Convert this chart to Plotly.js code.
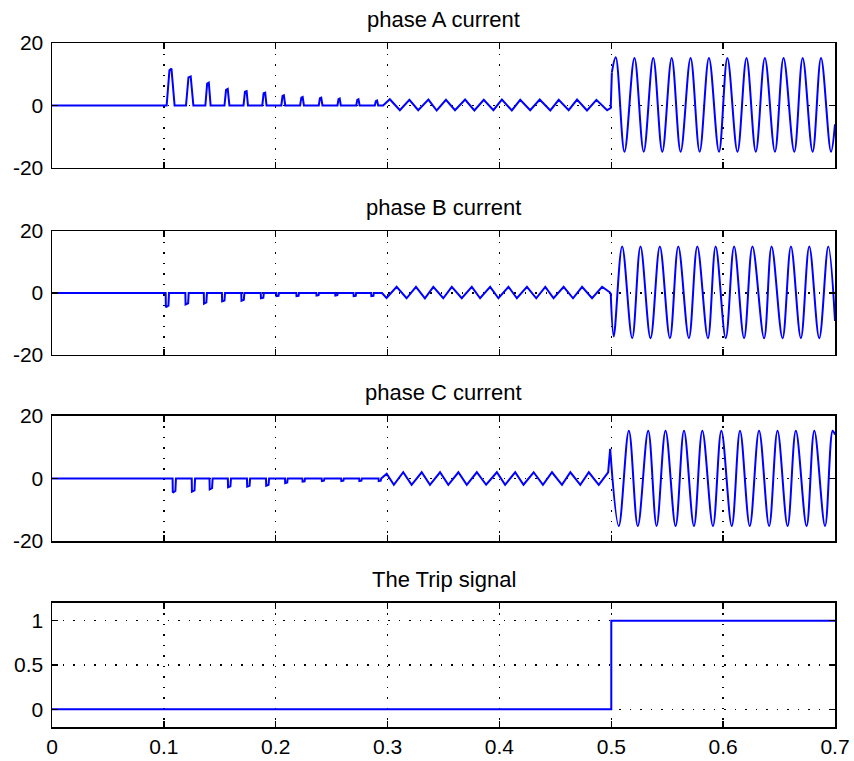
<!DOCTYPE html>
<html>
<head>
<meta charset="utf-8">
<script src="https://cdn.plot.ly/plotly-3.0.1.min.js"></script>
<style>html,body{margin:0;padding:0;background:#fff;}#chart{width:854px;height:761px;}</style>
</head>
<body>
<div id="chart"></div>
<script>
// ---------------- DATA ----------------
const xTickVals = [0, 0.1, 0.2, 0.3, 0.4, 0.5, 0.6, 0.7];
const xTickText = ['0', '0.1', '0.2', '0.3', '0.4', '0.5', '0.6', '0.7'];
const iTickVals = [-20, 0, 20];
const iTickText = ['-20', '0', '20'];
const tripTickVals = [0, 0.5, 1];
const tripTickText = ['0', '0.5', '1'];
const titles = ['phase A current', 'phase B current', 'phase C current', 'The Trip signal'];

// Phase A, before the fault (decaying pulses, then small ripple)
const tA_pre = [0,
  0.1025, 0.1050, 0.1068, 0.1096,
  0.1198, 0.1220, 0.1240, 0.1264,
  0.1371, 0.1387, 0.1402, 0.1418,
  0.1542, 0.1556, 0.1571, 0.1586,
  0.1712, 0.1725, 0.1740, 0.1752,
  0.1880, 0.1892, 0.1906, 0.1918,
  0.2050, 0.2061, 0.2073, 0.2085,
  0.2218, 0.2229, 0.2241, 0.2252,
  0.2385, 0.2395, 0.2407, 0.2418,
  0.2552, 0.2561, 0.2572, 0.2582,
  0.2720, 0.2729, 0.2740, 0.2750,
  0.2886, 0.2895, 0.2906, 0.2916,
  0.2960,
  0.3020, 0.3110, 0.3195, 0.3274, 0.3365, 0.3439, 0.3522, 0.3603, 0.3693, 0.3776, 0.3860, 0.3946,
  0.4022, 0.4111, 0.4186, 0.4275, 0.4360, 0.4455, 0.4530, 0.4619, 0.4694, 0.4783, 0.4867, 0.4963,
  0.4995, 0.5005];
const iA_pre = [0,
  0, 11.3, 11.8, 0,
  0, 9.0, 9.3, 0,
  0, 7.0, 7.3, 0,
  0, 5.0, 5.3, 0,
  0, 4.4, 4.6, 0,
  0, 3.9, 4.1, 0,
  0, 3.1, 3.3, 0,
  0, 2.5, 2.7, 0,
  0, 2.3, 2.5, 0,
  0, 2.0, 2.2, 0,
  0, 1.8, 2.0, 0,
  0, 1.4, 1.6, 0,
  0,
  2.0, -1.5, 1.8, -1.5, 1.9, -1.6, 1.8, -1.5, 1.9, -1.6, 1.8, -1.5,
  1.9, -1.6, 1.8, -1.5, 1.9, -1.6, 1.8, -1.5, 1.9, -1.6, 1.8, -1.5,
  -0.8, 10.5];
// Phase A, after the fault (peaks / troughs)
const tA_post = [0.5005, 0.5040, 0.5118, 0.5207, 0.5290, 0.5375, 0.5456, 0.5540, 0.5620, 0.5709,
  0.5790, 0.5873, 0.5963, 0.6038, 0.6128, 0.6209, 0.6292, 0.6373, 0.6463, 0.6540, 0.6636, 0.6711,
  0.6800, 0.6875, 0.6964, 0.7000];
const iA_post = [10.5, 15.4, -14.8, 15.2, -14.8, 15.2, -14.8, 15.2, -14.8, 15.2,
  -14.8, 15.2, -14.8, 15.2, -14.8, 15.2, -14.8, 15.2, -14.8, 15.2, -14.8, 15.2,
  -14.8, 15.2, -14.8, -6];

// Phase B, before the fault
const tB_pre = [0,
  0.1016, 0.1018, 0.1041, 0.1046,
  0.1192, 0.1194, 0.1217, 0.1222,
  0.1357, 0.1359, 0.1380, 0.1385,
  0.1519, 0.1521, 0.1542, 0.1547,
  0.1692, 0.1694, 0.1715, 0.1720,
  0.1866, 0.1868, 0.1889, 0.1894,
  0.2005, 0.2007, 0.2025, 0.2029,
  0.2184, 0.2186, 0.2204, 0.2208,
  0.2363, 0.2365, 0.2383, 0.2387,
  0.2531, 0.2533, 0.2551, 0.2555,
  0.2695, 0.2697, 0.2715, 0.2719,
  0.2853, 0.2855, 0.2873, 0.2877,
  0.2950, 0.2991,
  0.3081, 0.3170, 0.3254, 0.3334, 0.3409, 0.3498, 0.3574, 0.3663, 0.3753, 0.3827, 0.3917, 0.3991,
  0.4081, 0.4156, 0.4246, 0.4329, 0.4410, 0.4484, 0.4574, 0.4658, 0.4739, 0.4828, 0.4918,
  0.4995];
const iB_pre = [0,
  0, -4.6, -4.1, 0,
  0, -3.7, -3.3, 0,
  0, -3.4, -3.0, 0,
  0, -2.7, -2.4, 0,
  0, -2.5, -2.2, 0,
  0, -1.7, -1.5, 0,
  0, -1.0, -0.9, 0,
  0, -1.0, -0.9, 0,
  0, -0.8, -0.7, 0,
  0, -0.8, -0.7, 0,
  0, -1.0, -0.9, 0,
  0, -1.0, -0.9, 0,
  0, -1.6,
  2.0, -1.7, 2.0, -1.7, 2.0, -1.7, 2.0, -1.7, 2.0, -1.7, 2.0, -1.7,
  2.0, -1.7, 2.0, -1.7, 2.0, -1.7, 2.0, -1.7, 2.0, -1.7, 2.0,
  0];
// Phase B, after the fault
const tB_post = [0.4995, 0.5022, 0.5097, 0.5187, 0.5261, 0.5351, 0.5434, 0.5524, 0.5599, 0.5694,
  0.5769, 0.5864, 0.5933, 0.6023, 0.6098, 0.6187, 0.6262, 0.6366, 0.6433, 0.6531, 0.6606, 0.6695,
  0.6770, 0.6859, 0.6940, 0.7000];
const iB_post = [0, -14.0, 15.0, -14.6, 15.0, -14.6, 15.0, -14.6, 15.0, -14.6,
  15.0, -14.6, 15.0, -14.6, 15.0, -14.6, 15.0, -14.6, 15.0, -14.6, 15.0, -14.6,
  15.0, -14.6, 15.0, -9];

// Phase C, before the fault
const tC_pre = [0,
  0.1078, 0.1080, 0.1103, 0.1108,
  0.1249, 0.1251, 0.1274, 0.1279,
  0.1408, 0.1410, 0.1431, 0.1436,
  0.1572, 0.1574, 0.1595, 0.1600,
  0.1743, 0.1745, 0.1766, 0.1771,
  0.1913, 0.1915, 0.1936, 0.1941,
  0.2083, 0.2085, 0.2103, 0.2107,
  0.2238, 0.2240, 0.2258, 0.2262,
  0.2411, 0.2413, 0.2431, 0.2435,
  0.2585, 0.2587, 0.2605, 0.2609,
  0.2746, 0.2748, 0.2766, 0.2770,
  0.2919, 0.2921, 0.2939, 0.2943,
  0.2992, 0.3056, 0.3140, 0.3215, 0.3305, 0.3379, 0.3469, 0.3543, 0.3633, 0.3708, 0.3798, 0.3881,
  0.3977, 0.4051, 0.4141, 0.4215, 0.4306, 0.4389, 0.4470, 0.4559, 0.4634, 0.4723, 0.4799, 0.4888,
  0.4972, 0.4990];
const iC_pre = [0,
  0, -4.5, -4.0, 0,
  0, -4.2, -3.8, 0,
  0, -3.5, -3.1, 0,
  0, -2.8, -2.5, 0,
  0, -2.6, -2.3, 0,
  0, -2.3, -2.0, 0,
  0, -1.5, -1.3, 0,
  0, -1.0, -0.9, 0,
  0, -0.8, -0.7, 0,
  0, -0.8, -0.7, 0,
  0, -0.8, -0.7, 0,
  0, -0.8, -0.7, 0,
  1.5, -2.0, 2.0, -2.0, 2.0, -2.0, 2.0, -2.0, 2.0, -2.0, 2.0, -2.0,
  2.0, -2.0, 2.0, -2.0, 2.0, -2.0, 2.0, -2.0, 2.0, -2.0, 2.0, -2.0,
  2.0, 9.5];
// Phase C, after the fault
const tC_post = [0.4990, 0.5067, 0.5157, 0.5237, 0.5330, 0.5405, 0.5485, 0.5575, 0.5650, 0.5739,
  0.5814, 0.5909, 0.5984, 0.6077, 0.6151, 0.6238, 0.6321, 0.6411, 0.6486, 0.6576, 0.6650, 0.6746,
  0.6815, 0.6911, 0.6979, 0.7000];
const iC_post = [9.5, -15.2, 15.3, -15.2, 15.3, -15.2, 15.3, -15.2, 15.3, -15.2,
  15.3, -15.2, 15.3, -15.2, 15.3, -15.2, 15.3, -15.2, 15.3, -15.2, 15.3, -15.2,
  15.3, -15.2, 15.3, 14];

// Trip signal
const tTrip = [0, 0.5, 0.5, 0.7];
const vTrip = [0, 0, 1, 1];

// ---------------- PLOT ----------------
const BLUE = '#0000ff';
const LW = 2;
function lin(x, y, xa, ya) {
  return {x: x, y: y, xaxis: xa, yaxis: ya, type: 'scatter', mode: 'lines',
    line: {color: BLUE, width: LW, shape: 'linear'}, hoverinfo: 'skip'};
}
function spl(x, y, xa, ya) {
  return {x: x, y: y, xaxis: xa, yaxis: ya, type: 'scatter', mode: 'lines',
    line: {color: BLUE, width: LW, shape: 'spline', smoothing: 1}, hoverinfo: 'skip'};
}
const data = [
  lin(tA_pre, iA_pre, 'x', 'y'), spl(tA_post, iA_post, 'x', 'y'),
  lin(tB_pre, iB_pre, 'x2', 'y2'), spl(tB_post, iB_post, 'x2', 'y2'),
  lin(tC_pre, iC_pre, 'x3', 'y3'), spl(tC_post, iC_post, 'x3', 'y3'),
  lin(tTrip, vTrip, 'x4', 'y4')
];

const FONT = 'Liberation Sans, Arial, sans-serif';
const axisCommon = {
  ticks: 'inside', ticklen: 6, tickwidth: 1.5, tickcolor: '#000',
  showline: true, linecolor: '#000', linewidth: 1.5, mirror: 'ticks',
  showgrid: true, gridcolor: '#000', gridwidth: 1.5, griddash: '1.5px,9px',
  zeroline: false, fixedrange: true,
  tickfont: {family: FONT, size: 21, color: '#000'}
};
function xax(anchor, showLabels) {
  return Object.assign({}, axisCommon, {anchor: anchor, range: [0, 0.7],
    tickmode: 'array', tickvals: xTickVals, ticktext: xTickText, showticklabels: showLabels});
}
function yax(anchor, domain, rng, tv, tt) {
  return Object.assign({}, axisCommon, {anchor: anchor, domain: domain, range: rng,
    tickmode: 'array', tickvals: tv, ticktext: tt, ticklabelstandoff: 3});
}
const domains = [[0.8173, 1], [0.5439, 0.7251], [0.2719, 0.4547], [0, 0.1813]];

const annotations = titles.map((t, k) => ({
  text: t, xref: 'paper', yref: 'paper', x: 0.5, y: domains[k][1],
  xanchor: 'center', yanchor: 'middle', yshift: 23.5, showarrow: false,
  font: {family: FONT, size: 22, color: '#000'}
}));

const layout = {
  width: 854, height: 761,
  margin: {l: 52, r: 19, t: 43, b: 34},
  paper_bgcolor: '#fff', plot_bgcolor: '#fff',
  showlegend: false,
  font: {family: FONT, size: 19, color: '#000'},
  xaxis: xax('y', false),
  xaxis2: xax('y2', false),
  xaxis3: xax('y3', false),
  xaxis4: xax('y4', true),
  yaxis: yax('x', domains[0], [-20, 20], iTickVals, iTickText),
  yaxis2: yax('x2', domains[1], [-20, 20], iTickVals, iTickText),
  yaxis3: yax('x3', domains[2], [-20, 20], iTickVals, iTickText),
  yaxis4: yax('x4', domains[3], [-0.2, 1.2], tripTickVals, tripTickText),
  annotations: annotations
};

Plotly.newPlot('chart', data, layout, {displayModeBar: false, staticPlot: true});
</script>
</body>
</html>
